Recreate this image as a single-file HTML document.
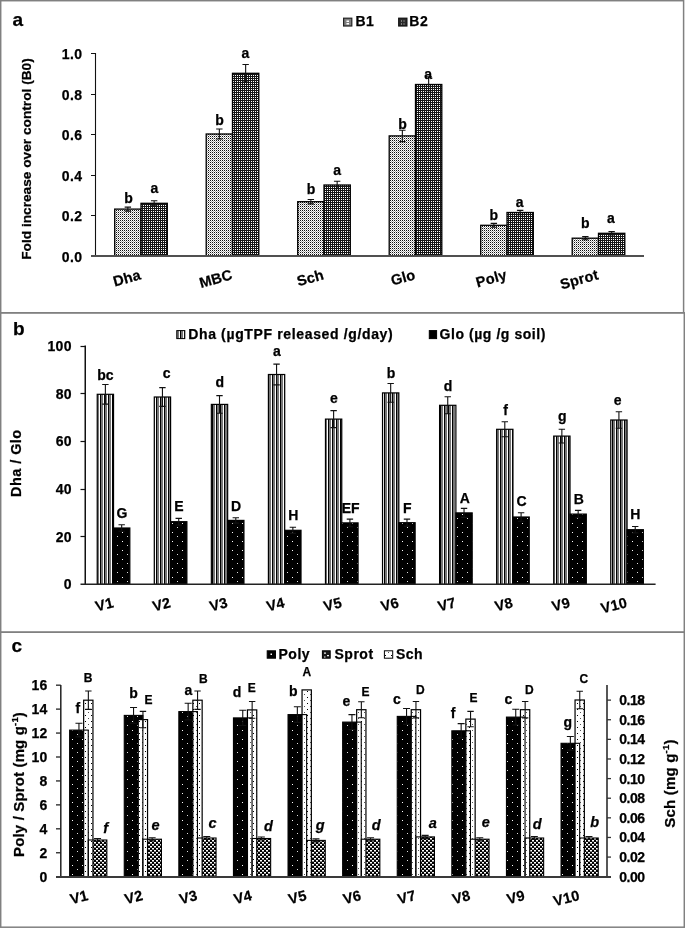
<!DOCTYPE html><html><head><meta charset="utf-8"><style>html,body{margin:0;padding:0;background:#fff;}svg{display:block;will-change:transform;}</style></head><body><svg width="685" height="928" viewBox="0 0 685 928">
<defs>
<pattern id="pA1" width="2" height="2" patternUnits="userSpaceOnUse"><rect width="2" height="2" fill="#fff"/><rect x="0" y="0" width="1" height="1" fill="#111"/><rect x="1" y="1" width="1" height="1" fill="#aaa"/></pattern>
<pattern id="pA2" width="2" height="2" patternUnits="userSpaceOnUse"><rect width="2" height="2" fill="#151515"/><rect x="1" y="1" width="1" height="1" fill="#fff"/></pattern>
<pattern id="pBd" width="4" height="4" patternUnits="userSpaceOnUse"><rect width="4" height="4" fill="#fff"/><rect x="0" width="1" height="4" fill="#000"/><rect x="1" width="2" height="4" fill="#777"/></pattern>
<pattern id="pBg" width="10" height="9" patternUnits="userSpaceOnUse"><rect width="10" height="9" fill="#000"/><rect x="2" y="1" width="1" height="1" fill="#fff"/><rect x="7" y="5" width="1" height="1" fill="#ddd"/></pattern>
<pattern id="pCs" width="6" height="6" patternUnits="userSpaceOnUse"><rect width="6" height="6" fill="#fff"/><rect x="1" y="1" width="1" height="1" fill="#000"/><rect x="4" y="4" width="1" height="1" fill="#555"/></pattern>
<pattern id="pCp" width="4" height="4" patternUnits="userSpaceOnUse"><rect width="4" height="4" fill="#000"/><rect x="0" y="0" width="2" height="1" fill="#fff"/><rect x="0" y="1" width="2" height="1" fill="#888"/><rect x="2" y="2" width="2" height="1" fill="#fff"/><rect x="2" y="3" width="2" height="1" fill="#888"/></pattern>
</defs>
<rect width="685" height="928" fill="#fff"/>
<g font-family="&quot;Liberation Sans&quot;, sans-serif" font-weight="bold" fill="#000" stroke="#000" stroke-width="0">
<rect x="114.70" y="209.10" width="26.30" height="46.90" fill="url(#pA1)" stroke="#000" stroke-width="1.3"/>
<rect x="141.00" y="203.30" width="26.30" height="52.70" fill="url(#pA2)" stroke="#000" stroke-width="1.3"/>
<path d="M124.65 207.10H131.05M127.85 207.10V211.10M124.65 211.10H131.05" stroke="#111" stroke-width="1.1" fill="none"/>
<path d="M150.95 200.70H157.35M154.15 200.70V205.90M150.95 205.90H157.35" stroke="#111" stroke-width="1.1" fill="none"/>
<text x="128.50" y="203.20" font-size="14" text-anchor="middle" stroke-width="0.25">b</text>
<text x="154.40" y="193.10" font-size="14" text-anchor="middle" stroke-width="0.25">a</text>
<text transform="translate(141.80,279) rotate(-15.5)" font-size="14.5" text-anchor="end" letter-spacing="0.2" stroke-width="0.25">Dha</text>
<rect x="206.20" y="134.00" width="26.30" height="122.00" fill="url(#pA1)" stroke="#000" stroke-width="1.3"/>
<rect x="232.50" y="73.30" width="26.30" height="182.70" fill="url(#pA2)" stroke="#000" stroke-width="1.3"/>
<path d="M216.15 129.00H222.55M219.35 129.00V139.00M216.15 139.00H222.55" stroke="#111" stroke-width="1.1" fill="none"/>
<path d="M242.45 64.50H248.85M245.65 64.50V82.10M242.45 82.10H248.85" stroke="#111" stroke-width="1.1" fill="none"/>
<text x="219.50" y="125.00" font-size="14" text-anchor="middle" stroke-width="0.25">b</text>
<text x="245.50" y="57.70" font-size="14" text-anchor="middle" stroke-width="0.25">a</text>
<text transform="translate(233.30,279) rotate(-15.5)" font-size="14.5" text-anchor="end" letter-spacing="0.2" stroke-width="0.25">MBC</text>
<rect x="297.70" y="201.70" width="26.30" height="54.30" fill="url(#pA1)" stroke="#000" stroke-width="1.3"/>
<rect x="324.00" y="185.00" width="26.30" height="71.00" fill="url(#pA2)" stroke="#000" stroke-width="1.3"/>
<path d="M307.65 199.50H314.05M310.85 199.50V203.90M307.65 203.90H314.05" stroke="#111" stroke-width="1.1" fill="none"/>
<path d="M333.95 181.30H340.35M337.15 181.30V188.70M333.95 188.70H340.35" stroke="#111" stroke-width="1.1" fill="none"/>
<text x="311.00" y="194.10" font-size="14" text-anchor="middle" stroke-width="0.25">b</text>
<text x="337.10" y="175.20" font-size="14" text-anchor="middle" stroke-width="0.25">a</text>
<text transform="translate(324.80,279) rotate(-15.5)" font-size="14.5" text-anchor="end" letter-spacing="0.2" stroke-width="0.25">Sch</text>
<rect x="389.20" y="135.90" width="26.30" height="120.10" fill="url(#pA1)" stroke="#000" stroke-width="1.3"/>
<rect x="415.50" y="84.50" width="26.30" height="171.50" fill="url(#pA2)" stroke="#000" stroke-width="1.3"/>
<path d="M399.15 130.20H405.55M402.35 130.20V141.60M399.15 141.60H405.55" stroke="#111" stroke-width="1.1" fill="none"/>
<path d="M425.45 76.80H431.85M428.65 76.80V92.20M425.45 92.20H431.85" stroke="#111" stroke-width="1.1" fill="none"/>
<text x="402.60" y="128.80" font-size="14" text-anchor="middle" stroke-width="0.25">b</text>
<text x="428.20" y="78.70" font-size="14" text-anchor="middle" stroke-width="0.25">a</text>
<text transform="translate(416.30,279) rotate(-15.5)" font-size="14.5" text-anchor="end" letter-spacing="0.2" stroke-width="0.25">Glo</text>
<rect x="480.70" y="225.30" width="26.30" height="30.70" fill="url(#pA1)" stroke="#000" stroke-width="1.3"/>
<rect x="507.00" y="212.50" width="26.30" height="43.50" fill="url(#pA2)" stroke="#000" stroke-width="1.3"/>
<path d="M490.65 223.40H497.05M493.85 223.40V227.20M490.65 227.20H497.05" stroke="#111" stroke-width="1.1" fill="none"/>
<path d="M516.95 210.40H523.35M520.15 210.40V214.60M516.95 214.60H523.35" stroke="#111" stroke-width="1.1" fill="none"/>
<text x="493.80" y="219.90" font-size="14" text-anchor="middle" stroke-width="0.25">b</text>
<text x="519.60" y="206.50" font-size="14" text-anchor="middle" stroke-width="0.25">a</text>
<text transform="translate(507.80,279) rotate(-15.5)" font-size="14.5" text-anchor="end" letter-spacing="0.2" stroke-width="0.25">Poly</text>
<rect x="572.20" y="238.20" width="26.30" height="17.80" fill="url(#pA1)" stroke="#000" stroke-width="1.3"/>
<rect x="598.50" y="233.30" width="26.30" height="22.70" fill="url(#pA2)" stroke="#000" stroke-width="1.3"/>
<path d="M582.15 236.60H588.55M585.35 236.60V239.80M582.15 239.80H588.55" stroke="#111" stroke-width="1.1" fill="none"/>
<path d="M608.45 231.60H614.85M611.65 231.60V235.00M608.45 235.00H614.85" stroke="#111" stroke-width="1.1" fill="none"/>
<text x="585.30" y="228.00" font-size="14" text-anchor="middle" stroke-width="0.25">b</text>
<text x="610.90" y="223.30" font-size="14" text-anchor="middle" stroke-width="0.25">a</text>
<text transform="translate(599.30,279) rotate(-15.5)" font-size="14.5" text-anchor="end" letter-spacing="0.2" stroke-width="0.25">Sprot</text>
<line x1="95.50" y1="53.00" x2="95.50" y2="256.00" stroke="#111" stroke-width="1.1"/>
<line x1="91.00" y1="256.00" x2="644.00" y2="256.00" stroke="#505050" stroke-width="1.8"/>
<text x="82.50" y="261.70" font-size="14" text-anchor="end" letter-spacing="0.4" stroke-width="0.25">0.0</text>
<line x1="91.00" y1="215.50" x2="95.50" y2="215.50" stroke="#111" stroke-width="1"/>
<text x="82.50" y="221.18" font-size="14" text-anchor="end" letter-spacing="0.4" stroke-width="0.25">0.2</text>
<line x1="91.00" y1="175.50" x2="95.50" y2="175.50" stroke="#111" stroke-width="1"/>
<text x="82.50" y="180.66" font-size="14" text-anchor="end" letter-spacing="0.4" stroke-width="0.25">0.4</text>
<line x1="91.00" y1="134.50" x2="95.50" y2="134.50" stroke="#111" stroke-width="1"/>
<text x="82.50" y="140.14" font-size="14" text-anchor="end" letter-spacing="0.4" stroke-width="0.25">0.6</text>
<line x1="91.00" y1="94.50" x2="95.50" y2="94.50" stroke="#111" stroke-width="1"/>
<text x="82.50" y="99.62" font-size="14" text-anchor="end" letter-spacing="0.4" stroke-width="0.25">0.8</text>
<line x1="91.00" y1="53.50" x2="95.50" y2="53.50" stroke="#111" stroke-width="1"/>
<text x="82.50" y="59.10" font-size="14" text-anchor="end" letter-spacing="0.4" stroke-width="0.25">1.0</text>
<text transform="translate(31,159) rotate(-90)" font-size="13.7" text-anchor="middle" stroke-width="0.25">Fold increase over control (B0)</text>
<text x="12.60" y="26.00" font-size="19" stroke-width="0.25">a</text>
<rect x="343.60" y="18.20" width="8.20" height="7.80" fill="#808080" stroke="#222" stroke-width="1.2"/>
<path d="M346.5 20.5h2.5v1.5h-2.5zM346.5 23h2.5v1.5h-2.5z" fill="#fff"/>
<text x="355.50" y="26.20" font-size="14" letter-spacing="0.5" stroke-width="0.25">B1</text>
<rect x="398.70" y="18.20" width="8.20" height="7.80" fill="#2a2a2a" stroke="#111" stroke-width="1.2"/>
<path d="M401 20.5h1v1h-1zM403.5 20.5h1v1h-1zM401 23.5h1v1h-1zM403.5 23.5h1v1h-1z" fill="#ccc"/>
<text x="409.30" y="26.20" font-size="14" letter-spacing="0.5" stroke-width="0.25">B2</text>
<rect x="97.23" y="394.30" width="16.30" height="190.10" fill="url(#pBd)" stroke="#000" stroke-width="1.2"/>
<rect x="113.53" y="528.00" width="16.30" height="56.40" fill="url(#pBg)" stroke="#000" stroke-width="1.2"/>
<path d="M102.18 384.50H108.58M105.38 384.50V404.10M102.18 404.10H108.58" stroke="#111" stroke-width="1.1" fill="none"/>
<path d="M118.48 524.70H124.88M121.68 524.70V531.30M118.48 531.30H124.88" stroke="#111" stroke-width="1.1" fill="none"/>
<text x="105.40" y="379.80" font-size="14" text-anchor="middle" stroke-width="0.25">bc</text>
<text x="122.00" y="517.60" font-size="14" text-anchor="middle" stroke-width="0.25">G</text>
<text transform="translate(114.43,607.0) rotate(-14)" font-size="14.5" text-anchor="end" letter-spacing="0.2" stroke-width="0.25">V1</text>
<rect x="154.29" y="397.00" width="16.30" height="187.40" fill="url(#pBd)" stroke="#000" stroke-width="1.2"/>
<rect x="170.59" y="521.70" width="16.30" height="62.70" fill="url(#pBg)" stroke="#000" stroke-width="1.2"/>
<path d="M159.24 387.60H165.64M162.44 387.60V406.40M159.24 406.40H165.64" stroke="#111" stroke-width="1.1" fill="none"/>
<path d="M175.54 518.40H181.94M178.74 518.40V525.00M175.54 525.00H181.94" stroke="#111" stroke-width="1.1" fill="none"/>
<text x="166.70" y="377.80" font-size="14" text-anchor="middle" stroke-width="0.25">c</text>
<text x="178.90" y="511.40" font-size="14" text-anchor="middle" stroke-width="0.25">E</text>
<text transform="translate(171.49,607.0) rotate(-14)" font-size="14.5" text-anchor="end" letter-spacing="0.2" stroke-width="0.25">V2</text>
<rect x="211.35" y="404.40" width="16.30" height="180.00" fill="url(#pBd)" stroke="#000" stroke-width="1.2"/>
<rect x="227.65" y="520.40" width="16.30" height="64.00" fill="url(#pBg)" stroke="#000" stroke-width="1.2"/>
<path d="M216.30 395.60H222.70M219.50 395.60V413.20M216.30 413.20H222.70" stroke="#111" stroke-width="1.1" fill="none"/>
<path d="M232.60 517.70H239.00M235.80 517.70V523.10M232.60 523.10H239.00" stroke="#111" stroke-width="1.1" fill="none"/>
<text x="219.70" y="387.00" font-size="14" text-anchor="middle" stroke-width="0.25">d</text>
<text x="236.00" y="510.50" font-size="14" text-anchor="middle" stroke-width="0.25">D</text>
<text transform="translate(228.55,607.0) rotate(-14)" font-size="14.5" text-anchor="end" letter-spacing="0.2" stroke-width="0.25">V3</text>
<rect x="268.41" y="374.50" width="16.30" height="209.90" fill="url(#pBd)" stroke="#000" stroke-width="1.2"/>
<rect x="284.71" y="530.30" width="16.30" height="54.10" fill="url(#pBg)" stroke="#000" stroke-width="1.2"/>
<path d="M273.36 364.10H279.76M276.56 364.10V384.90M273.36 384.90H279.76" stroke="#111" stroke-width="1.1" fill="none"/>
<path d="M289.66 527.20H296.06M292.86 527.20V533.40M289.66 533.40H296.06" stroke="#111" stroke-width="1.1" fill="none"/>
<text x="276.80" y="355.50" font-size="14" text-anchor="middle" stroke-width="0.25">a</text>
<text x="293.30" y="519.60" font-size="14" text-anchor="middle" stroke-width="0.25">H</text>
<text transform="translate(285.61,607.0) rotate(-14)" font-size="14.5" text-anchor="end" letter-spacing="0.2" stroke-width="0.25">V4</text>
<rect x="325.47" y="419.10" width="16.30" height="165.30" fill="url(#pBd)" stroke="#000" stroke-width="1.2"/>
<rect x="341.77" y="522.90" width="16.30" height="61.50" fill="url(#pBg)" stroke="#000" stroke-width="1.2"/>
<path d="M330.42 410.60H336.82M333.62 410.60V427.60M330.42 427.60H336.82" stroke="#111" stroke-width="1.1" fill="none"/>
<path d="M346.72 519.10H353.12M349.92 519.10V526.70M346.72 526.70H353.12" stroke="#111" stroke-width="1.1" fill="none"/>
<text x="334.00" y="403.40" font-size="14" text-anchor="middle" stroke-width="0.25">e</text>
<text x="350.60" y="512.60" font-size="14" text-anchor="middle" stroke-width="0.25">EF</text>
<text transform="translate(342.67,607.0) rotate(-14)" font-size="14.5" text-anchor="end" letter-spacing="0.2" stroke-width="0.25">V5</text>
<rect x="382.53" y="392.90" width="16.30" height="191.50" fill="url(#pBd)" stroke="#000" stroke-width="1.2"/>
<rect x="398.83" y="522.70" width="16.30" height="61.70" fill="url(#pBg)" stroke="#000" stroke-width="1.2"/>
<path d="M387.48 383.50H393.88M390.68 383.50V402.30M387.48 402.30H393.88" stroke="#111" stroke-width="1.1" fill="none"/>
<path d="M403.78 519.10H410.18M406.98 519.10V526.30M403.78 526.30H410.18" stroke="#111" stroke-width="1.1" fill="none"/>
<text x="391.00" y="377.70" font-size="14" text-anchor="middle" stroke-width="0.25">b</text>
<text x="407.30" y="512.60" font-size="14" text-anchor="middle" stroke-width="0.25">F</text>
<text transform="translate(399.73,607.0) rotate(-14)" font-size="14.5" text-anchor="end" letter-spacing="0.2" stroke-width="0.25">V6</text>
<rect x="439.59" y="405.30" width="16.30" height="179.10" fill="url(#pBd)" stroke="#000" stroke-width="1.2"/>
<rect x="455.89" y="512.90" width="16.30" height="71.50" fill="url(#pBg)" stroke="#000" stroke-width="1.2"/>
<path d="M444.54 396.80H450.94M447.74 396.80V413.80M444.54 413.80H450.94" stroke="#111" stroke-width="1.1" fill="none"/>
<path d="M460.84 508.40H467.24M464.04 508.40V517.40M460.84 517.40H467.24" stroke="#111" stroke-width="1.1" fill="none"/>
<text x="448.00" y="390.60" font-size="14" text-anchor="middle" stroke-width="0.25">d</text>
<text x="464.90" y="502.70" font-size="14" text-anchor="middle" stroke-width="0.25">A</text>
<text transform="translate(456.79,607.0) rotate(-14)" font-size="14.5" text-anchor="end" letter-spacing="0.2" stroke-width="0.25">V7</text>
<rect x="496.65" y="429.30" width="16.30" height="155.10" fill="url(#pBd)" stroke="#000" stroke-width="1.2"/>
<rect x="512.95" y="517.00" width="16.30" height="67.40" fill="url(#pBg)" stroke="#000" stroke-width="1.2"/>
<path d="M501.60 421.80H508.00M504.80 421.80V436.80M501.60 436.80H508.00" stroke="#111" stroke-width="1.1" fill="none"/>
<path d="M517.90 512.70H524.30M521.10 512.70V521.30M517.90 521.30H524.30" stroke="#111" stroke-width="1.1" fill="none"/>
<text x="505.70" y="414.60" font-size="14" text-anchor="middle" stroke-width="0.25">f</text>
<text x="521.50" y="506.00" font-size="14" text-anchor="middle" stroke-width="0.25">C</text>
<text transform="translate(513.85,607.0) rotate(-14)" font-size="14.5" text-anchor="end" letter-spacing="0.2" stroke-width="0.25">V8</text>
<rect x="553.71" y="436.10" width="16.30" height="148.30" fill="url(#pBd)" stroke="#000" stroke-width="1.2"/>
<rect x="570.01" y="514.10" width="16.30" height="70.30" fill="url(#pBg)" stroke="#000" stroke-width="1.2"/>
<path d="M558.66 429.20H565.06M561.86 429.20V443.00M558.66 443.00H565.06" stroke="#111" stroke-width="1.1" fill="none"/>
<path d="M574.96 510.40H581.36M578.16 510.40V517.80M574.96 517.80H581.36" stroke="#111" stroke-width="1.1" fill="none"/>
<text x="562.30" y="421.30" font-size="14" text-anchor="middle" stroke-width="0.25">g</text>
<text x="578.90" y="504.20" font-size="14" text-anchor="middle" stroke-width="0.25">B</text>
<text transform="translate(570.91,607.0) rotate(-14)" font-size="14.5" text-anchor="end" letter-spacing="0.2" stroke-width="0.25">V9</text>
<rect x="610.77" y="420.00" width="16.30" height="164.40" fill="url(#pBd)" stroke="#000" stroke-width="1.2"/>
<rect x="627.07" y="529.70" width="16.30" height="54.70" fill="url(#pBg)" stroke="#000" stroke-width="1.2"/>
<path d="M615.72 411.70H622.12M618.92 411.70V428.30M615.72 428.30H622.12" stroke="#111" stroke-width="1.1" fill="none"/>
<path d="M632.02 526.50H638.42M635.22 526.50V532.90M632.02 532.90H638.42" stroke="#111" stroke-width="1.1" fill="none"/>
<text x="617.70" y="405.30" font-size="14" text-anchor="middle" stroke-width="0.25">e</text>
<text x="635.40" y="519.10" font-size="14" text-anchor="middle" stroke-width="0.25">H</text>
<text transform="translate(627.97,607.0) rotate(-14)" font-size="14.5" text-anchor="end" letter-spacing="0.2" stroke-width="0.25">V10</text>
<line x1="85.25" y1="345.50" x2="85.25" y2="584.40" stroke="#111" stroke-width="1.5"/>
<line x1="80.50" y1="584.30" x2="655.60" y2="584.30" stroke="#222" stroke-width="1.4"/>
<text x="72.00" y="589.40" font-size="14" text-anchor="end" letter-spacing="0.4" stroke-width="0.25">0</text>
<line x1="80.50" y1="536.50" x2="85.00" y2="536.50" stroke="#111" stroke-width="1.2"/>
<text x="72.00" y="541.72" font-size="14" text-anchor="end" letter-spacing="0.4" stroke-width="0.25">20</text>
<line x1="80.50" y1="489.50" x2="85.00" y2="489.50" stroke="#111" stroke-width="1.2"/>
<text x="72.00" y="494.04" font-size="14" text-anchor="end" letter-spacing="0.4" stroke-width="0.25">40</text>
<line x1="80.50" y1="441.50" x2="85.00" y2="441.50" stroke="#111" stroke-width="1.2"/>
<text x="72.00" y="446.36" font-size="14" text-anchor="end" letter-spacing="0.4" stroke-width="0.25">60</text>
<line x1="80.50" y1="393.50" x2="85.00" y2="393.50" stroke="#111" stroke-width="1.2"/>
<text x="72.00" y="398.68" font-size="14" text-anchor="end" letter-spacing="0.4" stroke-width="0.25">80</text>
<line x1="80.50" y1="346.50" x2="85.00" y2="346.50" stroke="#111" stroke-width="1.2"/>
<text x="72.00" y="351.00" font-size="14" text-anchor="end" letter-spacing="0.4" stroke-width="0.25">100</text>
<text transform="translate(21,463.2) rotate(-90)" font-size="14.5" text-anchor="middle" letter-spacing="0.45" stroke-width="0.25">Dha / Glo</text>
<text x="13.00" y="334.70" font-size="19" stroke-width="0.25">b</text>
<rect x="176.80" y="330.60" width="8.00" height="8.00" fill="url(#pBd)" stroke="#000" stroke-width="1"/>
<text x="188.20" y="339.00" font-size="14" textLength="204.50" lengthAdjust="spacing" stroke-width="0.25">Dha (µgTPF released /g/day)</text>
<rect x="429.30" y="330.60" width="7.30" height="8.00" fill="#000" stroke="#000" stroke-width="1"/>
<text x="439.60" y="339.00" font-size="14" textLength="105.80" lengthAdjust="spacing" stroke-width="0.25">Glo (µg /g soil)</text>
<rect x="69.65" y="730.10" width="18.6" height="146.90" fill="url(#pBg)"/>
<rect x="88.25" y="840.00" width="18.6" height="37.00" fill="url(#pCp)"/>
<rect x="83.65" y="700.20" width="9.30" height="176.80" fill="url(#pCs)" stroke="#000" stroke-width="1.2"/>
<rect x="69.65" y="730.10" width="18.6" height="146.90" fill="none" stroke="#000" stroke-width="1.1"/>
<rect x="88.25" y="840.00" width="18.6" height="37.00" fill="none" stroke="#000" stroke-width="1.1"/>
<path d="M75.45 723.30H82.45M78.95 723.30V736.90M75.45 736.90H82.45" stroke="#111" stroke-width="1.1" fill="none"/>
<path d="M94.05 838.50H101.05M97.55 838.50V841.50M94.05 841.50H101.05" stroke="#111" stroke-width="1.1" fill="none"/>
<path d="M85.15 691.00H91.55M88.35 691.00V709.40M85.15 709.40H91.55" stroke="#111" stroke-width="1.1" fill="none"/>
<text x="77.80" y="712.80" font-size="14" text-anchor="middle" stroke-width="0.25">f</text>
<text x="88.20" y="681.60" font-size="12" text-anchor="middle" stroke-width="0.25">B</text>
<text x="105.70" y="833.00" font-size="14.5" text-anchor="middle" font-style="italic" stroke-width="0.25">f</text>
<text transform="translate(89.05,899.8) rotate(-14)" font-size="14.5" text-anchor="end" letter-spacing="0.2" stroke-width="0.25">V1</text>
<rect x="124.25" y="715.40" width="18.6" height="161.60" fill="url(#pBg)"/>
<rect x="142.85" y="839.20" width="18.6" height="37.80" fill="url(#pCp)"/>
<rect x="138.25" y="719.60" width="9.30" height="157.40" fill="url(#pCs)" stroke="#000" stroke-width="1.2"/>
<rect x="124.25" y="715.40" width="18.6" height="161.60" fill="none" stroke="#000" stroke-width="1.1"/>
<rect x="142.85" y="839.20" width="18.6" height="37.80" fill="none" stroke="#000" stroke-width="1.1"/>
<path d="M130.05 707.50H137.05M133.55 707.50V723.30M130.05 723.30H137.05" stroke="#111" stroke-width="1.1" fill="none"/>
<path d="M148.65 837.70H155.65M152.15 837.70V840.70M148.65 840.70H155.65" stroke="#111" stroke-width="1.1" fill="none"/>
<path d="M139.75 711.40H146.15M142.95 711.40V727.80M139.75 727.80H146.15" stroke="#111" stroke-width="1.1" fill="none"/>
<text x="133.50" y="698.20" font-size="14" text-anchor="middle" stroke-width="0.25">b</text>
<text x="148.60" y="704.00" font-size="12" text-anchor="middle" stroke-width="0.25">E</text>
<text x="155.50" y="829.60" font-size="14.5" text-anchor="middle" font-style="italic" stroke-width="0.25">e</text>
<text transform="translate(143.65,899.8) rotate(-14)" font-size="14.5" text-anchor="end" letter-spacing="0.2" stroke-width="0.25">V2</text>
<rect x="178.85" y="711.60" width="18.6" height="165.40" fill="url(#pBg)"/>
<rect x="197.45" y="838.00" width="18.6" height="39.00" fill="url(#pCp)"/>
<rect x="192.85" y="700.20" width="9.30" height="176.80" fill="url(#pCs)" stroke="#000" stroke-width="1.2"/>
<rect x="178.85" y="711.60" width="18.6" height="165.40" fill="none" stroke="#000" stroke-width="1.1"/>
<rect x="197.45" y="838.00" width="18.6" height="39.00" fill="none" stroke="#000" stroke-width="1.1"/>
<path d="M184.65 703.30H191.65M188.15 703.30V719.90M184.65 719.90H191.65" stroke="#111" stroke-width="1.1" fill="none"/>
<path d="M203.25 836.50H210.25M206.75 836.50V839.50M203.25 839.50H210.25" stroke="#111" stroke-width="1.1" fill="none"/>
<path d="M194.35 691.00H200.75M197.55 691.00V709.40M194.35 709.40H200.75" stroke="#111" stroke-width="1.1" fill="none"/>
<text x="188.50" y="694.80" font-size="14" text-anchor="middle" stroke-width="0.25">a</text>
<text x="203.30" y="682.60" font-size="12" text-anchor="middle" stroke-width="0.25">B</text>
<text x="212.60" y="828.00" font-size="14.5" text-anchor="middle" font-style="italic" stroke-width="0.25">c</text>
<text transform="translate(198.25,899.8) rotate(-14)" font-size="14.5" text-anchor="end" letter-spacing="0.2" stroke-width="0.25">V3</text>
<rect x="233.45" y="717.90" width="18.6" height="159.10" fill="url(#pBg)"/>
<rect x="252.05" y="838.50" width="18.6" height="38.50" fill="url(#pCp)"/>
<rect x="247.45" y="709.90" width="9.30" height="167.10" fill="url(#pCs)" stroke="#000" stroke-width="1.2"/>
<rect x="233.45" y="717.90" width="18.6" height="159.10" fill="none" stroke="#000" stroke-width="1.1"/>
<rect x="252.05" y="838.50" width="18.6" height="38.50" fill="none" stroke="#000" stroke-width="1.1"/>
<path d="M239.25 710.30H246.25M242.75 710.30V725.50M239.25 725.50H246.25" stroke="#111" stroke-width="1.1" fill="none"/>
<path d="M257.85 837.00H264.85M261.35 837.00V840.00M257.85 840.00H264.85" stroke="#111" stroke-width="1.1" fill="none"/>
<path d="M248.95 701.50H255.35M252.15 701.50V718.30M248.95 718.30H255.35" stroke="#111" stroke-width="1.1" fill="none"/>
<text x="237.00" y="696.60" font-size="14" text-anchor="middle" stroke-width="0.25">d</text>
<text x="251.70" y="691.70" font-size="12" text-anchor="middle" stroke-width="0.25">E</text>
<text x="268.50" y="830.60" font-size="14.5" text-anchor="middle" font-style="italic" stroke-width="0.25">d</text>
<text transform="translate(252.85,899.8) rotate(-14)" font-size="14.5" text-anchor="end" letter-spacing="0.2" stroke-width="0.25">V4</text>
<rect x="288.05" y="714.60" width="18.6" height="162.40" fill="url(#pBg)"/>
<rect x="306.65" y="840.40" width="18.6" height="36.60" fill="url(#pCp)"/>
<rect x="302.05" y="689.90" width="9.30" height="187.10" fill="url(#pCs)" stroke="#000" stroke-width="1.2"/>
<rect x="288.05" y="714.60" width="18.6" height="162.40" fill="none" stroke="#000" stroke-width="1.1"/>
<rect x="306.65" y="840.40" width="18.6" height="36.60" fill="none" stroke="#000" stroke-width="1.1"/>
<path d="M293.85 706.80H300.85M297.35 706.80V722.40M293.85 722.40H300.85" stroke="#111" stroke-width="1.1" fill="none"/>
<path d="M312.45 838.90H319.45M315.95 838.90V841.90M312.45 841.90H319.45" stroke="#111" stroke-width="1.1" fill="none"/>
<text x="293.40" y="696.40" font-size="14" text-anchor="middle" stroke-width="0.25">b</text>
<text x="306.90" y="675.90" font-size="12" text-anchor="middle" stroke-width="0.25">A</text>
<text x="320.30" y="830.30" font-size="14.5" text-anchor="middle" font-style="italic" stroke-width="0.25">g</text>
<text transform="translate(307.45,899.8) rotate(-14)" font-size="14.5" text-anchor="end" letter-spacing="0.2" stroke-width="0.25">V5</text>
<rect x="342.65" y="722.10" width="18.6" height="154.90" fill="url(#pBg)"/>
<rect x="361.25" y="839.20" width="18.6" height="37.80" fill="url(#pCp)"/>
<rect x="356.65" y="709.70" width="9.30" height="167.30" fill="url(#pCs)" stroke="#000" stroke-width="1.2"/>
<rect x="342.65" y="722.10" width="18.6" height="154.90" fill="none" stroke="#000" stroke-width="1.1"/>
<rect x="361.25" y="839.20" width="18.6" height="37.80" fill="none" stroke="#000" stroke-width="1.1"/>
<path d="M348.45 714.60H355.45M351.95 714.60V729.60M348.45 729.60H355.45" stroke="#111" stroke-width="1.1" fill="none"/>
<path d="M367.05 837.70H374.05M370.55 837.70V840.70M367.05 840.70H374.05" stroke="#111" stroke-width="1.1" fill="none"/>
<path d="M358.15 701.70H364.55M361.35 701.70V717.70M358.15 717.70H364.55" stroke="#111" stroke-width="1.1" fill="none"/>
<text x="346.50" y="705.60" font-size="14" text-anchor="middle" stroke-width="0.25">e</text>
<text x="365.60" y="695.50" font-size="12" text-anchor="middle" stroke-width="0.25">E</text>
<text x="376.30" y="830.20" font-size="14.5" text-anchor="middle" font-style="italic" stroke-width="0.25">d</text>
<text transform="translate(362.05,899.8) rotate(-14)" font-size="14.5" text-anchor="end" letter-spacing="0.2" stroke-width="0.25">V6</text>
<rect x="397.25" y="716.40" width="18.6" height="160.60" fill="url(#pBg)"/>
<rect x="415.85" y="836.90" width="18.6" height="40.10" fill="url(#pCp)"/>
<rect x="411.25" y="709.70" width="9.30" height="167.30" fill="url(#pCs)" stroke="#000" stroke-width="1.2"/>
<rect x="397.25" y="716.40" width="18.6" height="160.60" fill="none" stroke="#000" stroke-width="1.1"/>
<rect x="415.85" y="836.90" width="18.6" height="40.10" fill="none" stroke="#000" stroke-width="1.1"/>
<path d="M403.05 708.50H410.05M406.55 708.50V724.30M403.05 724.30H410.05" stroke="#111" stroke-width="1.1" fill="none"/>
<path d="M421.65 835.40H428.65M425.15 835.40V838.40M421.65 838.40H428.65" stroke="#111" stroke-width="1.1" fill="none"/>
<path d="M412.75 701.50H419.15M415.95 701.50V717.90M412.75 717.90H419.15" stroke="#111" stroke-width="1.1" fill="none"/>
<text x="396.90" y="703.60" font-size="14" text-anchor="middle" stroke-width="0.25">c</text>
<text x="420.40" y="694.40" font-size="12" text-anchor="middle" stroke-width="0.25">D</text>
<text x="432.80" y="828.00" font-size="14.5" text-anchor="middle" font-style="italic" stroke-width="0.25">a</text>
<text transform="translate(416.65,899.8) rotate(-14)" font-size="14.5" text-anchor="end" letter-spacing="0.2" stroke-width="0.25">V7</text>
<rect x="451.85" y="730.80" width="18.6" height="146.20" fill="url(#pBg)"/>
<rect x="470.45" y="839.20" width="18.6" height="37.80" fill="url(#pCp)"/>
<rect x="465.85" y="719.10" width="9.30" height="157.90" fill="url(#pCs)" stroke="#000" stroke-width="1.2"/>
<rect x="451.85" y="730.80" width="18.6" height="146.20" fill="none" stroke="#000" stroke-width="1.1"/>
<rect x="470.45" y="839.20" width="18.6" height="37.80" fill="none" stroke="#000" stroke-width="1.1"/>
<path d="M457.65 723.60H464.65M461.15 723.60V738.00M457.65 738.00H464.65" stroke="#111" stroke-width="1.1" fill="none"/>
<path d="M476.25 837.70H483.25M479.75 837.70V840.70M476.25 840.70H483.25" stroke="#111" stroke-width="1.1" fill="none"/>
<path d="M467.35 711.40H473.75M470.55 711.40V726.80M467.35 726.80H473.75" stroke="#111" stroke-width="1.1" fill="none"/>
<text x="453.00" y="718.00" font-size="14" text-anchor="middle" stroke-width="0.25">f</text>
<text x="473.40" y="702.30" font-size="12" text-anchor="middle" stroke-width="0.25">E</text>
<text x="485.80" y="826.80" font-size="14.5" text-anchor="middle" font-style="italic" stroke-width="0.25">e</text>
<text transform="translate(471.25,899.8) rotate(-14)" font-size="14.5" text-anchor="end" letter-spacing="0.2" stroke-width="0.25">V8</text>
<rect x="506.45" y="717.10" width="18.6" height="159.90" fill="url(#pBg)"/>
<rect x="525.05" y="838.00" width="18.6" height="39.00" fill="url(#pCp)"/>
<rect x="520.45" y="709.70" width="9.30" height="167.30" fill="url(#pCs)" stroke="#000" stroke-width="1.2"/>
<rect x="506.45" y="717.10" width="18.6" height="159.90" fill="none" stroke="#000" stroke-width="1.1"/>
<rect x="525.05" y="838.00" width="18.6" height="39.00" fill="none" stroke="#000" stroke-width="1.1"/>
<path d="M512.25 709.20H519.25M515.75 709.20V725.00M512.25 725.00H519.25" stroke="#111" stroke-width="1.1" fill="none"/>
<path d="M530.85 836.50H537.85M534.35 836.50V839.50M530.85 839.50H537.85" stroke="#111" stroke-width="1.1" fill="none"/>
<path d="M521.95 701.50H528.35M525.15 701.50V717.90M521.95 717.90H528.35" stroke="#111" stroke-width="1.1" fill="none"/>
<text x="508.50" y="703.60" font-size="14" text-anchor="middle" stroke-width="0.25">c</text>
<text x="529.40" y="694.40" font-size="12" text-anchor="middle" stroke-width="0.25">D</text>
<text x="537.30" y="828.80" font-size="14.5" text-anchor="middle" font-style="italic" stroke-width="0.25">d</text>
<text transform="translate(525.85,899.8) rotate(-14)" font-size="14.5" text-anchor="end" letter-spacing="0.2" stroke-width="0.25">V9</text>
<rect x="561.05" y="743.30" width="18.6" height="133.70" fill="url(#pBg)"/>
<rect x="579.65" y="838.00" width="18.6" height="39.00" fill="url(#pCp)"/>
<rect x="575.05" y="700.00" width="9.30" height="177.00" fill="url(#pCs)" stroke="#000" stroke-width="1.2"/>
<rect x="561.05" y="743.30" width="18.6" height="133.70" fill="none" stroke="#000" stroke-width="1.1"/>
<rect x="579.65" y="838.00" width="18.6" height="39.00" fill="none" stroke="#000" stroke-width="1.1"/>
<path d="M566.85 736.50H573.85M570.35 736.50V750.10M566.85 750.10H573.85" stroke="#111" stroke-width="1.1" fill="none"/>
<path d="M585.45 836.50H592.45M588.95 836.50V839.50M585.45 839.50H592.45" stroke="#111" stroke-width="1.1" fill="none"/>
<path d="M576.55 691.30H582.95M579.75 691.30V708.70M576.55 708.70H582.95" stroke="#111" stroke-width="1.1" fill="none"/>
<text x="567.70" y="727.00" font-size="14" text-anchor="middle" stroke-width="0.25">g</text>
<text x="583.80" y="683.10" font-size="12" text-anchor="middle" stroke-width="0.25">C</text>
<text x="594.70" y="827.00" font-size="14.5" text-anchor="middle" font-style="italic" stroke-width="0.25">b</text>
<text transform="translate(580.45,899.8) rotate(-14)" font-size="14.5" text-anchor="end" letter-spacing="0.2" stroke-width="0.25">V10</text>
<line x1="60.80" y1="685.00" x2="60.80" y2="877.00" stroke="#222" stroke-width="1.5"/>
<line x1="607.00" y1="685.00" x2="607.00" y2="877.00" stroke="#444" stroke-width="1.8"/>
<line x1="56.00" y1="877.00" x2="611.00" y2="877.00" stroke="#3a3a3a" stroke-width="1.8"/>
<text x="47.80" y="881.70" font-size="14" text-anchor="end" letter-spacing="0.4" stroke-width="0.25">0</text>
<line x1="56.00" y1="852.76" x2="60.80" y2="852.76" stroke="#222" stroke-width="1.3"/>
<text x="47.80" y="857.76" font-size="14" text-anchor="end" letter-spacing="0.4" stroke-width="0.25">2</text>
<line x1="56.00" y1="828.82" x2="60.80" y2="828.82" stroke="#222" stroke-width="1.3"/>
<text x="47.80" y="833.82" font-size="14" text-anchor="end" letter-spacing="0.4" stroke-width="0.25">4</text>
<line x1="56.00" y1="804.88" x2="60.80" y2="804.88" stroke="#222" stroke-width="1.3"/>
<text x="47.80" y="809.88" font-size="14" text-anchor="end" letter-spacing="0.4" stroke-width="0.25">6</text>
<line x1="56.00" y1="780.94" x2="60.80" y2="780.94" stroke="#222" stroke-width="1.3"/>
<text x="47.80" y="785.94" font-size="14" text-anchor="end" letter-spacing="0.4" stroke-width="0.25">8</text>
<line x1="56.00" y1="757.00" x2="60.80" y2="757.00" stroke="#222" stroke-width="1.3"/>
<text x="47.80" y="762.00" font-size="14" text-anchor="end" letter-spacing="0.4" stroke-width="0.25">10</text>
<line x1="56.00" y1="733.06" x2="60.80" y2="733.06" stroke="#222" stroke-width="1.3"/>
<text x="47.80" y="738.06" font-size="14" text-anchor="end" letter-spacing="0.4" stroke-width="0.25">12</text>
<line x1="56.00" y1="709.12" x2="60.80" y2="709.12" stroke="#222" stroke-width="1.3"/>
<text x="47.80" y="714.12" font-size="14" text-anchor="end" letter-spacing="0.4" stroke-width="0.25">14</text>
<line x1="56.00" y1="685.18" x2="60.80" y2="685.18" stroke="#222" stroke-width="1.3"/>
<text x="47.80" y="690.18" font-size="14" text-anchor="end" letter-spacing="0.4" stroke-width="0.25">16</text>
<text x="619.20" y="881.70" font-size="14" letter-spacing="-0.45" stroke-width="0.25">0.00</text>
<line x1="607.00" y1="857.08" x2="611.00" y2="857.08" stroke="#333" stroke-width="1.3"/>
<text x="619.20" y="862.08" font-size="14" letter-spacing="-0.45" stroke-width="0.25">0.02</text>
<line x1="607.00" y1="837.46" x2="611.00" y2="837.46" stroke="#333" stroke-width="1.3"/>
<text x="619.20" y="842.46" font-size="14" letter-spacing="-0.45" stroke-width="0.25">0.04</text>
<line x1="607.00" y1="817.84" x2="611.00" y2="817.84" stroke="#333" stroke-width="1.3"/>
<text x="619.20" y="822.84" font-size="14" letter-spacing="-0.45" stroke-width="0.25">0.06</text>
<line x1="607.00" y1="798.22" x2="611.00" y2="798.22" stroke="#333" stroke-width="1.3"/>
<text x="619.20" y="803.22" font-size="14" letter-spacing="-0.45" stroke-width="0.25">0.08</text>
<line x1="607.00" y1="778.60" x2="611.00" y2="778.60" stroke="#333" stroke-width="1.3"/>
<text x="619.20" y="783.60" font-size="14" letter-spacing="-0.45" stroke-width="0.25">0.10</text>
<line x1="607.00" y1="758.98" x2="611.00" y2="758.98" stroke="#333" stroke-width="1.3"/>
<text x="619.20" y="763.98" font-size="14" letter-spacing="-0.45" stroke-width="0.25">0.12</text>
<line x1="607.00" y1="739.36" x2="611.00" y2="739.36" stroke="#333" stroke-width="1.3"/>
<text x="619.20" y="744.36" font-size="14" letter-spacing="-0.45" stroke-width="0.25">0.14</text>
<line x1="607.00" y1="719.74" x2="611.00" y2="719.74" stroke="#333" stroke-width="1.3"/>
<text x="619.20" y="724.74" font-size="14" letter-spacing="-0.45" stroke-width="0.25">0.16</text>
<line x1="607.00" y1="700.12" x2="611.00" y2="700.12" stroke="#333" stroke-width="1.3"/>
<text x="619.20" y="705.12" font-size="14" letter-spacing="-0.45" stroke-width="0.25">0.18</text>
<text transform="translate(23.6,784.5) rotate(-90)" font-size="15" text-anchor="middle" letter-spacing="0.15" stroke-width="0.25">Poly / Sprot (mg g<tspan font-size="9.5" dy="-5.5">-1</tspan><tspan dy="5.5">)</tspan></text>
<text transform="translate(674.5,783.6) rotate(-90)" font-size="15" text-anchor="middle" letter-spacing="0.2" stroke-width="0.25">Sch (mg g<tspan font-size="9.5" dy="-5.5">-1</tspan><tspan dy="5.5">)</tspan></text>
<text x="11.40" y="652.20" font-size="19" stroke-width="0.25">c</text>
<rect x="267.20" y="650.80" width="8.30" height="7.40" fill="#000" stroke="#000" stroke-width="1"/>
<rect x="270.5" y="653.5" width="1.5" height="1.5" fill="#fff"/>
<text x="278.50" y="658.60" font-size="14" letter-spacing="0.5" stroke-width="0.25">Poly</text>
<rect x="322.40" y="650.80" width="7.80" height="7.40" fill="#1a1a1a" stroke="#000" stroke-width="1"/>
<path d="M324 652.5h2v1.2h-2zM327 655h2v1.2h-2zM324 656.5h1.5v1h-1.5z" fill="#eee"/>
<text x="334.50" y="658.60" font-size="14" letter-spacing="0.5" stroke-width="0.25">Sprot</text>
<rect x="384.40" y="650.80" width="8.30" height="7.40" fill="url(#pCs)" stroke="#000" stroke-width="1"/>
<text x="396.00" y="658.60" font-size="14" letter-spacing="0.5" stroke-width="0.25">Sch</text>
</g>
<rect x="0.7" y="0.7" width="682.9" height="312.1" fill="none" stroke="#808080" stroke-width="1.5"/>
<rect x="0.7" y="312.8" width="683.6" height="319.4" fill="none" stroke="#808080" stroke-width="1.5"/>
<rect x="0.7" y="632.2" width="683.6" height="295.0" fill="none" stroke="#808080" stroke-width="1.5"/>
</svg></body></html>
